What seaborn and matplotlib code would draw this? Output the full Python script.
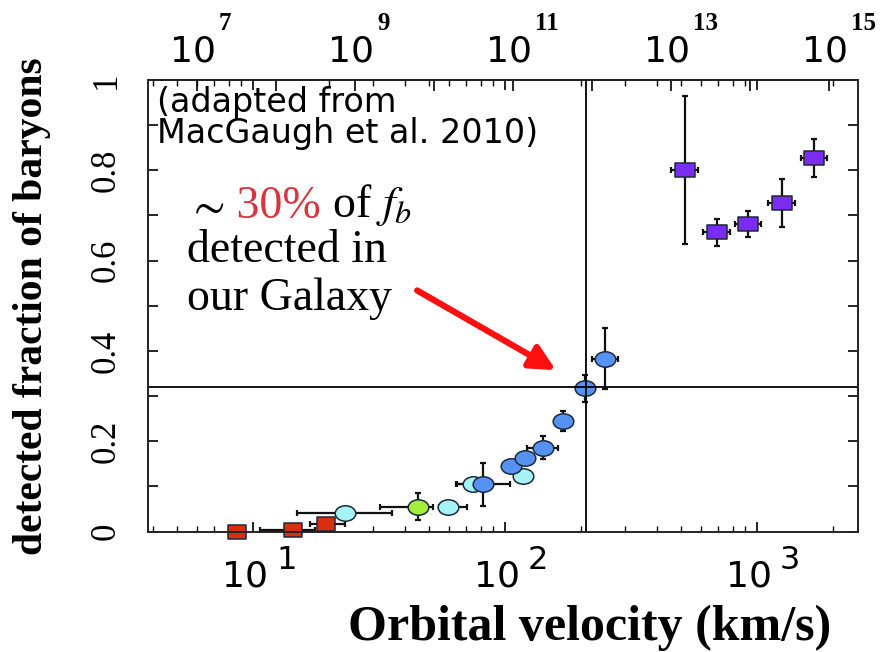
import numpy as np
import pandas as pd
import seaborn as sns
import matplotlib.pyplot as plt
from matplotlib.path import Path
from matplotlib.transforms import Affine2D
from matplotlib.ticker import FixedLocator, NullFormatter, NullLocator, LogLocator

# values (orbital velocity in km/s, detected baryon fraction)
velocity = [8.6, 14.4, 19.5, 23.2, 45.3, 59.6, 74.5, 81.8, 105.3, 117.5,
            120.0, 141.1, 169.4, 207.7, 249.5, 517.6, 691.8, 923.6, 1253.0, 1687.0]
fraction = [0.0, 0.003, 0.016, 0.042, 0.055, 0.055, 0.105, 0.105, 0.146, 0.123,
            0.163, 0.186, 0.245, 0.317, 0.383, 0.80, 0.663, 0.682, 0.728, 0.828]
vel_err_lo = [0, 3.7, 2.7, 8.2, 13.4, 5.0, 10.3, 17.2, 0, 0,
              0, 19.2, 0, 8, 28.7, 60, 80, 105, 145, 195]
vel_err_hi = [0, 3.2, 3.7, 12.3, 6.6, 10.9, 0, 23.0, 0, 0,
              0, 21.6, 0, 9, 32.3, 65, 88, 118, 160, 215]
frac_err = [0, 0, 0, 0, 0.03, 0, 0, 0.048, 0, 0,
            0, 0.025, 0.022, 0.03, 0.067, 0.164, 0.03, 0.029, 0.053, 0.042]
group = (['red'] * 3
         + ['cyan', 'green', 'cyan', 'cyan', 'blue', 'blue', 'cyan', 'blue', 'blue', 'blue', 'blue', 'blue']
         + ['purple'] * 5)

palette = {'red': '#d8300c', 'cyan': '#a6f2f4', 'green': '#a4ee3a',
           'blue': '#5592f4', 'purple': '#7a2cf2'}

mw_velocity = 209.6      # Milky Way marker lines
mw_fraction = 0.32

# top axis: total mass against velocity
mass_zero = 7.709        # log M at 10 km/s
mass_slope = 3.19
mass_exponents = list(range(7, 16))
mass_labelled = [7, 9, 11, 13, 15]
vel_exponents = [1, 2, 3]


def to_mass(v):
    v = np.clip(np.asarray(v, dtype=float), 1e-30, None)
    return 10 ** (mass_zero + mass_slope * (np.log10(v) - 1))


def to_vel(m):
    m = np.clip(np.asarray(m, dtype=float), 1e-300, None)
    return 10 ** (1 + (np.log10(m) - mass_zero) / mass_slope)


df = pd.DataFrame({'velocity': velocity, 'fraction': fraction, 'group': group})

sns.set_style('white')
plt.rcParams['font.family'] = ['Liberation Serif', 'DejaVu Serif']
plt.rcParams['mathtext.fontset'] = 'stix'
for key in ['text.color', 'axes.labelcolor', 'xtick.color', 'ytick.color']:
    plt.rcParams[key] = 'black'

fig = plt.figure(figsize=(8.84, 6.52), dpi=100)
ax = fig.add_axes([148 / 884, 1 - 531.6 / 652, 710 / 884, 451.6 / 652])
ax.set_xscale('log')

ax.errorbar(velocity, fraction, xerr=[vel_err_lo, vel_err_hi], yerr=frac_err,
            fmt='none', ecolor='#111111', elinewidth=1.6, capsize=2.5, capthick=1.6,
            zorder=2, clip_on=False)

ellipse = Path.unit_circle().transformed(Affine2D().scale(1, 0.75))
rect = Path([(-1, -0.72), (1, -0.72), (1, 0.72), (-1, 0.72), (-1, -0.72)],
            [Path.MOVETO, Path.LINETO, Path.LINETO, Path.LINETO, Path.CLOSEPOLY])
marker_of = {'red': (rect, 175), 'cyan': (ellipse, 220), 'green': (ellipse, 220),
             'blue': (ellipse, 220), 'purple': (rect, 215)}

for g in ['red', 'cyan', 'green', 'blue', 'purple']:
    sub = df[df.group == g]
    mk, size = marker_of[g]
    sns.scatterplot(data=sub, x='velocity', y='fraction', color=palette[g], marker=mk,
                    s=size, edgecolor='#1c2a3a', linewidth=1.1, ax=ax, zorder=3,
                    clip_on=False, legend=False)

ax.axvline(mw_velocity, color='black', lw=1.3, zorder=4)
ax.axhline(mw_fraction, color='black', lw=1.3, zorder=4)

ax.set_xlim(3.83, 2518)
ax.set_ylim(0, 1)
for s in ax.spines.values():
    s.set_linewidth(1.4)
    s.set_color('#222222')
    s.set_zorder(5)

# bottom axis ticks
ax.xaxis.set_major_locator(FixedLocator([10.0 ** e for e in vel_exponents]))
ax.xaxis.set_minor_locator(LogLocator(base=10, subs=np.arange(2, 10)))
ax.xaxis.set_major_formatter(NullFormatter())
ax.xaxis.set_minor_formatter(NullFormatter())
ax.tick_params(axis='x', which='major', direction='in', length=7, width=1.2, top=True, bottom=True)
ax.tick_params(axis='x', which='minor', direction='in', length=4, width=1.0, top=True, bottom=True)

# y ticks
ax.set_yticks(np.arange(0, 1.01, 0.2), labels=['0', '0.2', '0.4', '0.6', '0.8', '1'])
ax.set_yticks(np.arange(0.1, 1.0, 0.2), minor=True)
ax.tick_params(axis='y', which='both', direction='in', length=7, width=1.2,
               left=True, right=True, labelsize=25, pad=18, labelrotation=90)
for lbl in ax.get_yticklabels():
    lbl.set_verticalalignment('center')

ax.set_ylabel('detected fraction of baryons', fontsize=30, fontweight='bold', va='center')
ax.yaxis.set_label_coords(-116 / 710, 0.5)
ax.set_xlabel('Orbital velocity (km/s)', fontsize=36, fontweight='bold', va='center')
ax.xaxis.set_label_coords(0.6225, -0.2135)

# bottom tick labels, drawn as base and raised exponent
xtr = ax.get_xaxis_transform()
for e in vel_exponents:
    ax.annotate('10', xy=(10.0 ** e, 0), xycoords=xtr, xytext=(-8, -45),
                textcoords='offset pixels', ha='center', va='center',
                fontsize=26, family='DejaVu Sans', annotation_clip=False)
    ax.annotate(str(e), xy=(10.0 ** e, 0), xycoords=xtr, xytext=(23, -29),
                textcoords='offset pixels', ha='left', va='center',
                fontsize=23, family='DejaVu Sans', annotation_clip=False)

# top axis: mass
sec = ax.secondary_xaxis('top', functions=(to_mass, to_vel))
sec.set_xticks([10.0 ** e for e in mass_exponents])
sec.xaxis.set_major_formatter(NullFormatter())
sec.xaxis.set_minor_locator(NullLocator())
sec.tick_params(axis='x', which='major', direction='in', length=8, width=1.2)
sec.spines['top'].set_linewidth(1.4)

for e in mass_labelled:
    v = float(to_vel(10.0 ** e))
    ax.annotate('10', xy=(v, 1), xycoords=xtr, xytext=(-4, 28),
                textcoords='offset pixels', ha='center', va='center',
                fontsize=26, family='DejaVu Sans', annotation_clip=False)
    ax.annotate(str(e), xy=(v, 1), xycoords=xtr, xytext=(22, 57),
                textcoords='offset pixels', ha='left', va='center',
                fontsize=18, fontweight='bold', annotation_clip=False)

# notes
ax.text(0.0127, 0.930, '(adapted from', transform=ax.transAxes, fontsize=24,
        family='DejaVu Sans', va='baseline')
ax.text(0.0127, 0.860, 'MacGaugh et al. 2010)', transform=ax.transAxes, fontsize=24,
        family='DejaVu Sans', va='baseline')

t1 = ax.text(0.055, 0.694, r'$\sim$', transform=ax.transAxes, fontsize=33, va='baseline')
t2 = ax.annotate(' 30%', xy=(1, 0), xycoords=t1, va='bottom', ha='left',
                 fontsize=33, color='#d8363c')
t3 = ax.annotate(r' of $f_b$', xy=(1, 0), xycoords=t2, va='bottom', ha='left', fontsize=33)
ax.text(0.055, 0.597, 'detected in', transform=ax.transAxes, fontsize=33, va='baseline')
ax.text(0.055, 0.491, 'our Galaxy', transform=ax.transAxes, fontsize=33, va='baseline')

ax.annotate('', xy=(159.2, 0.3575), xytext=(44.8, 0.534),
            arrowprops=dict(arrowstyle='-|>', color='#ff1010', lw=4.5, mutation_scale=38,
                            shrinkA=0, shrinkB=0), zorder=6)

fig.savefig('out.png', dpi=100)
